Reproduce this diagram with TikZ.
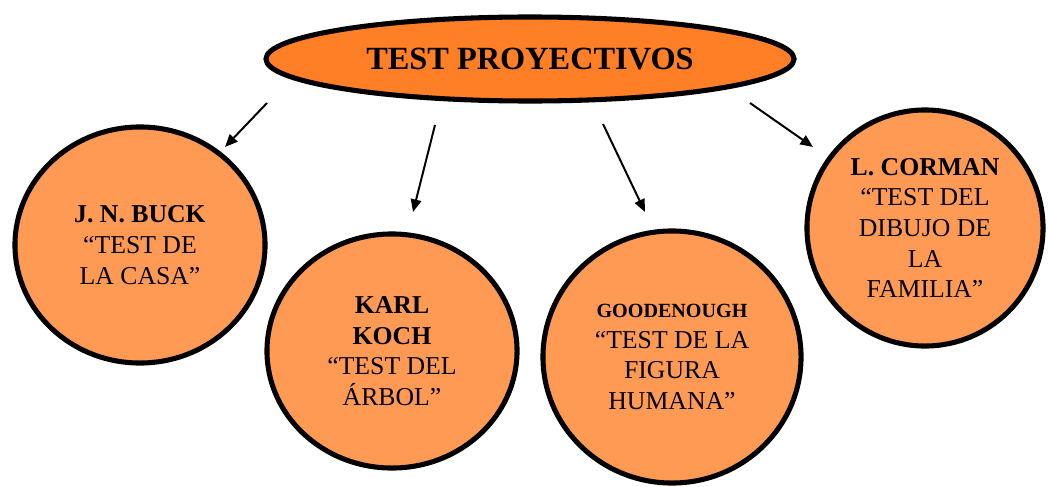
\documentclass[tikz,border=0pt]{standalone}
\usepackage{fontspec}
\setmainfont{Liberation Serif}
\usepackage{tikz}
\usetikzlibrary{shapes.geometric}
\usetikzlibrary{arrows.meta}

\definecolor{topfill}{HTML}{FF7F27}
\definecolor{circfill}{HTML}{FF9A55}

\begin{document}
\begin{tikzpicture}[x=0.025cm,y=-0.025cm,
    testbubble/.style={ellipse, draw=black, line width=3.6pt, fill=circfill, inner sep=0pt, align=center,
        font=\fontsize{18.3}{21.8}\selectfont},
    pointer/.style={line width=1.4pt, -{Triangle[length=9pt,width=7.5pt]}}]
    \useasboundingbox (0,0) rectangle (1049,486);
    \node (top) [ellipse, draw=black, line width=3.6pt, fill=topfill, minimum width=13.2cm, minimum height=2.1cm,
        font=\fontsize{23}{27}\selectfont\bfseries] at (530,59) {TEST PROYECTIVOS};
    \node (buck) [testbubble, minimum width=6.25cm, minimum height=5.9cm] at (140,245)
        {\textbf{J. N. BUCK}\\``TEST DE\\LA CASA''};
    \node (koch) [testbubble, minimum width=6.25cm, minimum height=5.85cm] at (392,351)
        {\textbf{KARL}\\\textbf{KOCH}\\``TEST DEL\\ÁRBOL''};
    \node (goodenough) [testbubble, minimum width=6.45cm, minimum height=6.3cm] at (672,357)
        {{\fontsize{14.3}{20}\selectfont\bfseries GOODENOUGH}\\``TEST DE LA\\FIGURA\\HUMANA''};
    \node (corman) [testbubble, minimum width=5.9cm, minimum height=5.9cm] at (925,228)
        {\textbf{L. CORMAN}\\``TEST DEL\\DIBUJO DE\\LA\\FAMILIA''};
    \coordinate (a1s) at (267,103);
    \coordinate (a1e) at (225,147);
    \coordinate (a2s) at (435,125);
    \coordinate (a2e) at (413,212);
    \coordinate (a3s) at (603,124);
    \coordinate (a3e) at (645,212);
    \coordinate (a4s) at (750,103);
    \coordinate (a4e) at (813,147);
    \foreach \a in {1,2,3,4}
        \draw[pointer] (a\a s) -- (a\a e);
\end{tikzpicture}
\end{document}
